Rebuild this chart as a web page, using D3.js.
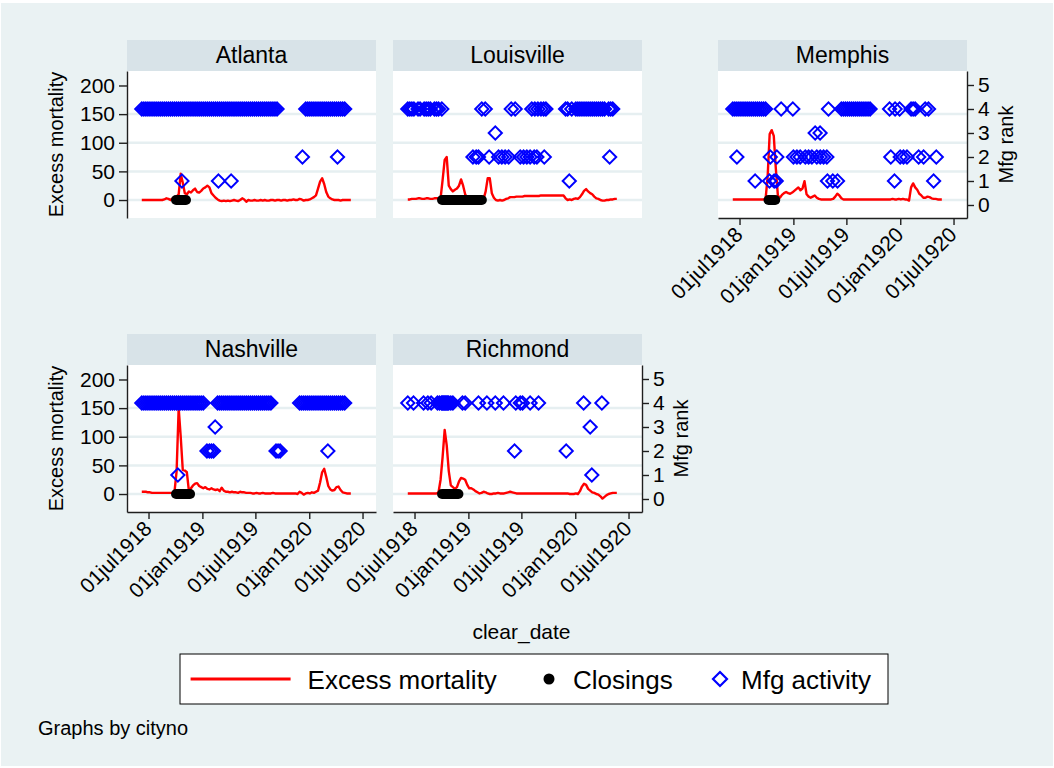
<!DOCTYPE html>
<html>
<head>
<meta charset="utf-8">
<title>Excess mortality, closings and mfg activity by city</title>
<script src="https://d3js.org/d3.v7.min.js"></script>
<style>
  body { margin: 0; background: #fff; }
  svg { display: block; font-family: "Liberation Sans", Arial, sans-serif; }
</style>
</head>
<body>
<svg id="chart" width="1054" height="768"></svg>
<script>
// ---- data ----
const cities = ["Atlanta", "Louisville", "Memphis", "Nashville", "Richmond"];
const firstWeek = "1918-06-08";            // week 0 of the weekly series
const dateTicks = ["1918-07-01", "1919-01-01", "1919-07-01", "1920-01-01", "1920-07-01"];
const mortTicks = [0, 50, 100, 150, 200];
const rankTicks = [0, 1, 2, 3, 4, 5];

// weekly excess mortality, week 0 .. 102
const mortAtlanta = [0,0,0,0,0,0,0,0,0,0,0,1,
  3,2,0,3,5,6,10,46,
  30,12,10,15,13,17,20,14,13,16,20,22,25,22,12,8,4,1,-1,-2,
  -1,-2,-1,-2,-1,0,-1,-2,0,3,1,-3,0,-1,-1,0,-1,-1,0,-1,
  0,-1,-1,0,0,-1,0,0,-1,0,0,-1,0,0,1,0,0,2,1,-1,
  0,0,1,3,5,8,20,32,38,28,14,6,3,1,0,0,0,-1,0,0,0,0,0];
const mortLouisville = [1,1,2,2,2,3,3,2,2,3,3,2,2,3,3,
  3,3,35,70,75,25,19,15,18,20,25,36,25,10,4,2,
  2,2,3,3,3,3,2,15,38,38,12,4,0,-1,0,-1,0,2,3,5,
  5,5,6,6,6,6,7,7,7,7,7,7,7,7,8,8,8,8,8,8,
  8,8,8,8,8,8,3,0,1,0,2,3,2,5,10,16,19,15,12,10,
  6,3,2,0,-1,-1,0,0,1,1,2,2];
const mortMemphis = [1,1,1,1,1,1,1,1,1,1,1,1,1,1,1,1,2,
  40,115,122,112,55,8,4,9,12,14,12,11,13,16,19,22,17,20,33,10,
  6,4,6,8,4,2,1,1,1,1,1,1,2,6,11,8,3,1,1,1,
  1,1,1,1,1,1,1,1,1,1,1,1,1,1,1,1,1,1,1,1,
  1,2,1,1,2,1,2,1,1,-1,
  22,29,22,18,11,8,4,4,6,5,3,2,2,1,1,1];
const mortNashville = [4,4,4,3,3,2,2,2,2,2,2,2,2,2,2,2,5,
  40,150,100,42,41,38,5,10,15,18,19,14,12,10,12,9,8,10,8,7,
  8,5,11,6,4,4,3,4,3,3,2,4,3,3,2,2,2,1,1,2,
  1,1,2,1,1,1,1,2,1,1,1,1,1,1,1,1,1,1,1,0,
  4,2,-1,1,2,1,3,2,4,6,
  20,38,44,30,14,8,6,7,12,13,7,3,2,1,1,1];
const mortRichmond = [1,1,1,1,1,1,1,1,1,1,1,1,1,1,1,3,25,
  65,112,85,40,15,12,9,12,22,28,27,25,16,10,10,8,5,3,1,2,
  4,3,1,0,0,1,1,2,1,1,1,2,3,4,3,2,1,1,1,1,
  1,1,1,1,1,1,1,1,1,1,1,1,1,1,1,1,1,1,1,1,
  1,1,0,0,0,1,0,5,13,18,
  16,9,6,3,2,0,-1,-4,-8,-5,-2,0,1,2,2,2];

// closing periods (first and last day)
const closeAtlanta = ["1918-10-03", "1918-11-06"];
const closeLouisville = ["1918-10-03", "1919-02-16"];
const closeMemphis = ["1918-10-08", "1918-10-31"];
const closeNashville = ["1918-10-03", "1918-11-20"];
const closeRichmond = ["1918-10-03", "1918-11-28"];

// mfg activity reports: rank -> weeks (from firstWeek) with that rank
const mfgAtlanta = {
  4: [0,1,2,3,4,5,6,7,8,9,10,11,12,13,14,15,16,17,18,19,20,21,22,23,24,25,26,27,28,29,30,31,32,33,
      34,35,36,37,38,39,40,41,42,43,44,45,46,47,48,49,50,51,52,53,54,55,56,57,58,59,60,61,62,63,64,65,66,
      80,81,82,83,84,85,86,87,88,89,90,91,92,93,94,95,96,97,98,99],
  2: [78.4, 95.5],
  1: [19.6, 37.4, 43.6]
};
const mfgLouisville = {
  4: [0,1,2,3,5,6,8,9,10,11,13,14,15,16.6, 36.1,37.8, 50.5,52.4, 60.5,62,63.5,65,66.3,67.4,
      77,78,80,82,83,84,85,86,87,88,89,90,91,92,93,94,95,96,98,99,100],
  3: [42.7],
  2: [31.8,33.4,34.5, 39.7, 44.3,45.9,47.5,49.2, 54.9,56.5,58.1,59.7,61.7,63, 66.6, 98.5],
  1: [78.8]
};
const mfgMemphis = {
  4: [0,1,2,3,4,5,6,7,8,9,10,11,12,13,14,15,16, 23.6, 29.3, 46.7,
      53,54,55,56,57,58,59,60,61,62,63,64,65,66,67, 76.5,79.2,81.4, 87,88,89, 93.9,95.5],
  3: [40.2, 42.6],
  2: [2, 18.3, 21.5, 29.6,31.3,32.9,35.4,37,38.6,41,42.7,44.3,45.9, 77.1,81.7,83.3,85,90.7,93.1,99.3],
  1: [10.9, 17.9, 20.2, 21.2, 46.2, 48.8, 51.1, 78.9, 98]
};
const mfgNashville = {
  4: [0,1,2,3,4,5,6,7,8,9,10,11,12,13,14,15,16,17,18,19,20,21,22,23,24,25,26,27,28,29,30,
      37,38,39,40,41,42,43,44,45,46,47,48,49,50,51,52,53,54,55,56,57,58,59,60,61,62,63,
      77,78,79,80,81,82,83,84,85,86,87,88,89,90,91,92,93,94,95,96,97,98,99],
  3: [35.8],
  2: [31.8,33,34,35, 65.5,66.5,67.5, 90.8],
  1: [17.6]
};
const mfgRichmond = {
  4: [0,2.8,7.7,9.8,11.4, 14.5,15.5,16.5,17,17.5,18,18.5,19,19.5,20,21,22,
      26.7,28,34.5,38.6,42.7,46.7,52.7,54.9,56,59.7,63.8,85.8,94.7],
  3: [89],
  2: [52.1, 77.3],
  1: [89.8]
};

const series = {
  Atlanta:    { mort: mortAtlanta,    close: closeAtlanta,    mfg: mfgAtlanta },
  Louisville: { mort: mortLouisville, close: closeLouisville, mfg: mfgLouisville },
  Memphis:    { mort: mortMemphis,    close: closeMemphis,    mfg: mfgMemphis },
  Nashville:  { mort: mortNashville,  close: closeNashville,  mfg: mfgNashville },
  Richmond:   { mort: mortRichmond,   close: closeRichmond,   mfg: mfgRichmond }
};

// ---- layout ----
const W = 249, H = 147, HEAD = 31;
const panels = [
  { city: "Atlanta",    x: 127, y: 71,  left: true },
  { city: "Louisville", x: 393, y: 71 },
  { city: "Memphis",    x: 718, y: 71,  right: true, bottom: true },
  { city: "Nashville",  x: 127, y: 365, left: true, bottom: true },
  { city: "Richmond",   x: 393, y: 365, right: true, bottom: true }
];

const parse = d3.utcParse("%Y-%m-%d");
const fmt = d3.utcFormat("%d%b%Y");
const t0 = parse(firstWeek);
const weekDate = w => new Date(+t0 + w * 7 * 864e5);

const x = d3.scaleUtc()
  .domain([new Date(Date.UTC(1918, 3, 18, 12)), new Date(Date.UTC(1920, 7, 16))])
  .range([0, W]);
const yM = d3.scaleLinear().domain([-31.4, 225.3]).range([H, 0]);
const yR = d3.scaleLinear().domain([-0.542, 5.583]).range([H, 0]);

const svg = d3.select("#chart");
svg.append("rect").attr("width", 1054).attr("height", 768).attr("fill", "#fff");
svg.append("rect").attr("x", 1).attr("y", 3).attr("width", 1052).attr("height", 763).attr("fill", "#eaf2f3");

function styleAxis(sel) {
  sel.attr("font-family", null).attr("font-size", null);
  sel.select(".domain").attr("stroke", "#1f1f1f").attr("stroke-width", 1.4);
  sel.selectAll(".tick line").attr("stroke", "#1f1f1f").attr("stroke-width", 1.4);
  sel.selectAll(".tick text").attr("fill", "#000").style("font-size", "21px");
}

const diamond = "M0,-6.6L6.6,0L0,6.6L-6.6,0Z";
const line = d3.line().x((d, i) => x(weekDate(i))).y(d => yM(d));

panels.forEach(p => {
  const s = series[p.city];
  const g = svg.append("g").attr("transform", `translate(${p.x},${p.y})`);

  g.append("rect").attr("y", -HEAD).attr("width", W).attr("height", HEAD).attr("fill", "#d8e3e8");
  g.append("text").attr("x", W / 2).attr("y", -8).attr("text-anchor", "middle")
    .style("font-size", "23px").text(p.city);

  g.append("rect").attr("width", W).attr("height", H).attr("fill", "#fff");

  g.append("g").selectAll("line").data(mortTicks.filter(v => v < 200)).join("line")
    .attr("x1", 0).attr("x2", W).attr("y1", d => yM(d)).attr("y2", d => yM(d))
    .attr("stroke", "#e6eff1").attr("stroke-width", 2.5);

  g.append("path").datum(s.mort).attr("d", line)
    .attr("fill", "none").attr("stroke", "#ff0000").attr("stroke-width", 2.4)
    .attr("stroke-linejoin", "round");

  g.append("line")
    .attr("x1", x(parse(s.close[0]))).attr("x2", x(parse(s.close[1])))
    .attr("y1", yM(0)).attr("y2", yM(0))
    .attr("stroke", "#000").attr("stroke-width", 10).attr("stroke-linecap", "round");

  const pts = Object.entries(s.mfg).flatMap(([rank, weeks]) => weeks.map(w => ({ w, rank: +rank })));
  g.append("g").selectAll("path").data(pts).join("path")
    .attr("d", diamond)
    .attr("transform", d => `translate(${x(weekDate(d.w))},${yR(d.rank)})`)
    .attr("fill", "none").attr("stroke", "#0000ff").attr("stroke-width", 2);

  if (p.left) {
    g.append("g").call(d3.axisLeft(yM).tickValues(mortTicks).tickSize(8).tickSizeOuter(0).tickPadding(4))
      .call(styleAxis);
    svg.append("text")
      .attr("transform", `translate(63,${p.y + H / 2}) rotate(-90)`)
      .attr("text-anchor", "middle").style("font-size", "20px").text("Excess mortality");
  }
  if (p.right) {
    g.append("g").attr("transform", `translate(${W},0)`)
      .call(d3.axisRight(yR).tickValues(rankTicks).tickFormat(d3.format("d"))
        .tickSize(7).tickSizeOuter(0).tickPadding(4))
      .call(styleAxis);
    svg.append("text")
      .attr("transform", `translate(${p.x + W + 46},${p.y + H / 2}) rotate(-90)`)
      .attr("text-anchor", "middle").style("font-size", "20px").text("Mfg rank");
  }
  if (p.bottom) {
    g.append("g").attr("transform", `translate(0,${H})`)
      .call(d3.axisBottom(x).tickValues(dateTicks.map(parse)).tickFormat(d => fmt(d).toLowerCase())
        .tickSize(7).tickSizeOuter(0))
      .call(styleAxis)
      .selectAll(".tick text")
      .attr("x", 0).attr("y", 0).attr("dy", null)
      .attr("text-anchor", "end")
      .attr("transform", "translate(4,18) rotate(-45)");
  }
});

svg.append("text").attr("x", 521.5).attr("y", 639).attr("text-anchor", "middle")
  .style("font-size", "21px").text("clear_date");

// legend
const lg = svg.append("g");
lg.append("rect").attr("x", 180).attr("y", 654).attr("width", 708).attr("height", 50)
  .attr("fill", "#fff").attr("stroke", "#000").attr("stroke-width", 1);
lg.append("line").attr("x1", 190.6).attr("x2", 290.6).attr("y1", 679).attr("y2", 679)
  .attr("stroke", "#ff0000").attr("stroke-width", 3);
lg.append("text").attr("x", 307.6).attr("y", 689).style("font-size", "26px").text("Excess mortality");
lg.append("circle").attr("cx", 549).attr("cy", 679).attr("r", 5.5).attr("fill", "#000");
lg.append("text").attr("x", 573).attr("y", 689).style("font-size", "26px").text("Closings");
lg.append("path").attr("d", "M0,-7L7,0L0,7L-7,0Z").attr("transform", "translate(720,679)")
  .attr("fill", "none").attr("stroke", "#0000ff").attr("stroke-width", 2.2);
lg.append("text").attr("x", 741).attr("y", 689).style("font-size", "26px").text("Mfg activity");

svg.append("text").attr("x", 38).attr("y", 735).style("font-size", "20px").text("Graphs by cityno");
</script>
</body>
</html>
